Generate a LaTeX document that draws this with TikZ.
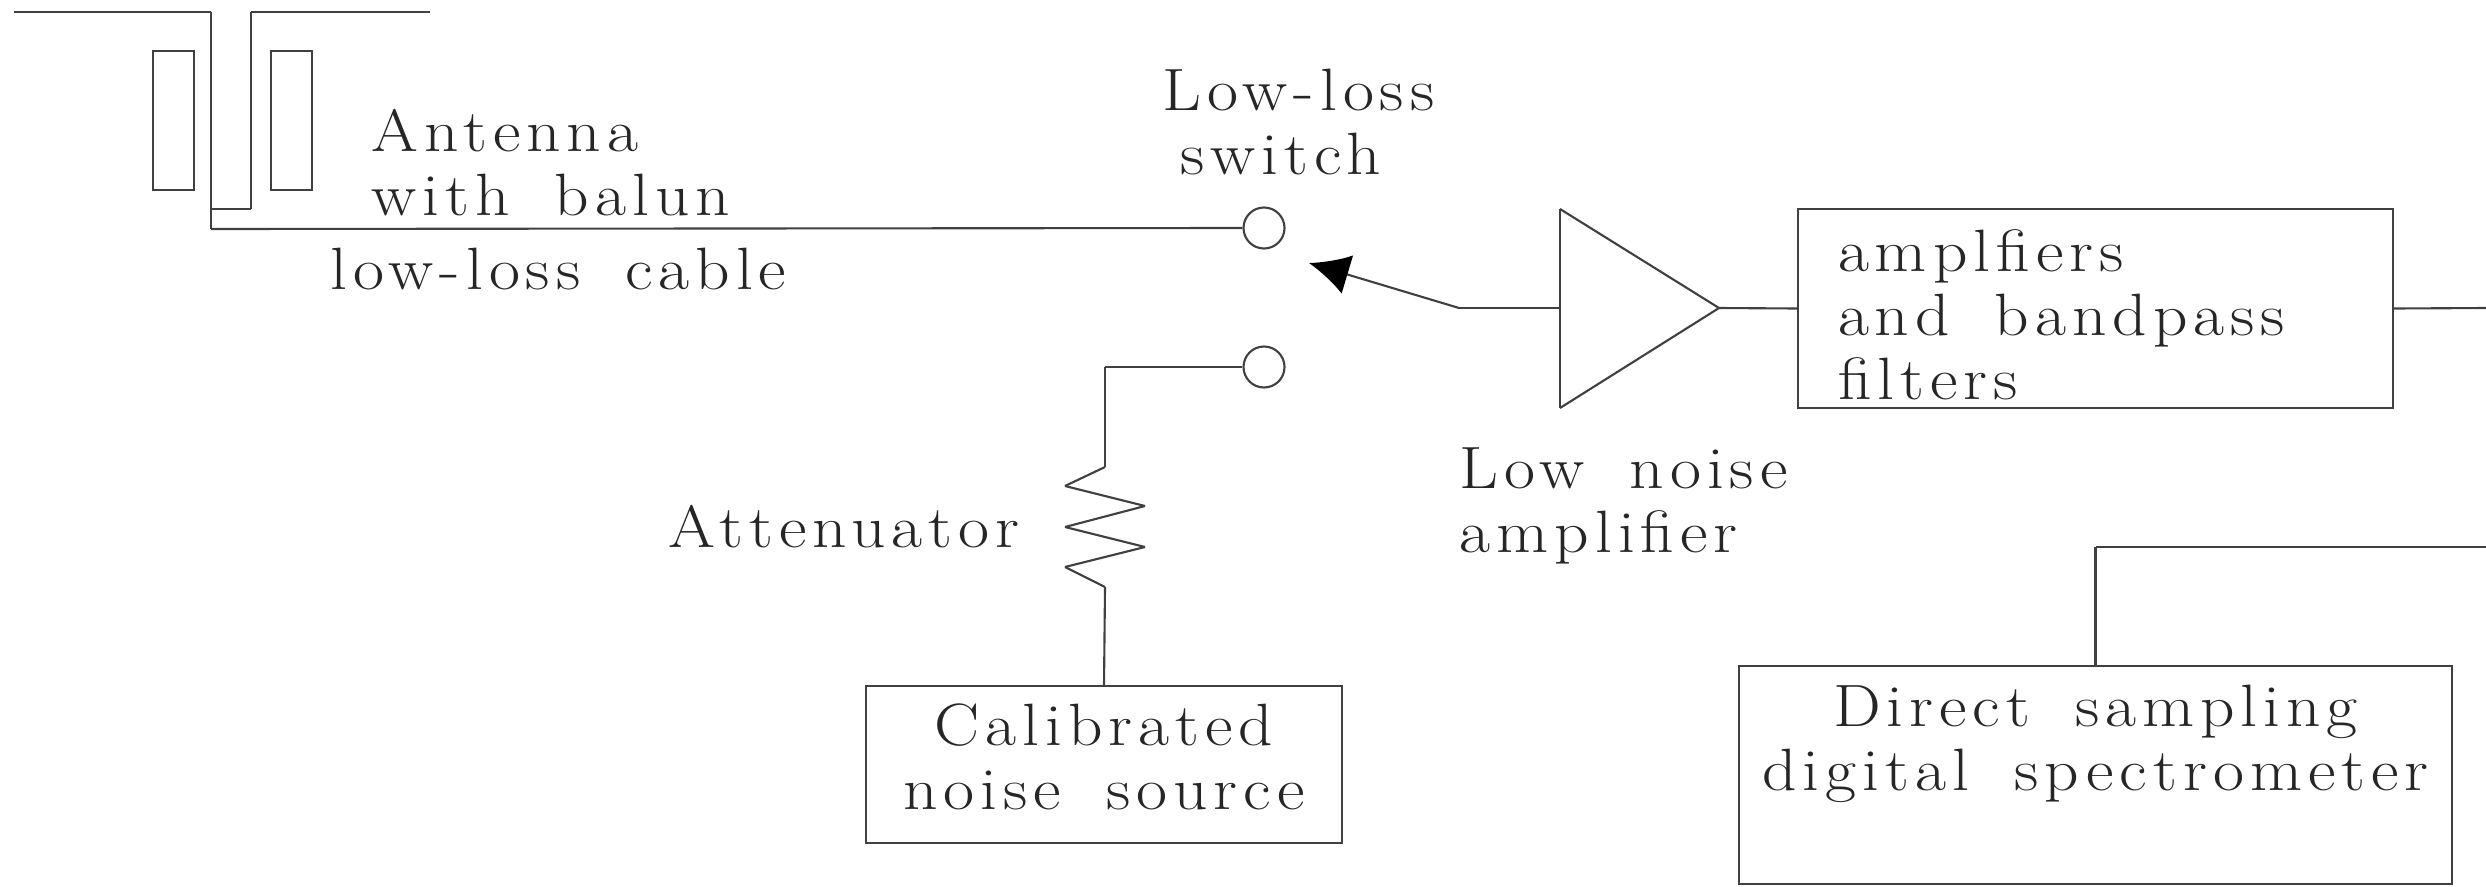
\documentclass[tikz,border=0pt]{standalone}
\usepackage{fontspec}
\usetikzlibrary{arrows.meta}
\newfontfamily\lblfont{Latin Modern Roman}[LetterSpace=10, FakeStretch=1.13, WordSpace=1.7]
\tikzset{
    wire/.style={draw=black!75, line width=0.6pt},
    lbl/.style={inner sep=0pt, anchor=base west, align=left, text=black!85, font=\fontsize{17}{18.2}\lblfont},
    box/.style={wire, draw, inner sep=0pt, anchor=base, text=black!85, font=\fontsize{17}{18.2}\lblfont},
    term/.style={wire, circle, minimum size=0.41cm, inner sep=0pt},
    sleeve/.style={wire, minimum width=0.41cm, minimum height=1.39cm, inner sep=0pt}
}
\begin{document}
\begin{tikzpicture}
            \useasboundingbox (0,0) rectangle (24.86,-8.86);

            \coordinate (dipL) at (0.14,-0.117);
            \coordinate (dipLi) at (2.11,-0.117);
            \coordinate (dipRi) at (2.51,-0.117);
            \coordinate (dipR) at (4.30,-0.117);
            \coordinate (balunL) at (2.11,-2.09);
            \coordinate (balunR) at (2.51,-2.09);
            \coordinate (cableL) at (2.11,-2.29);
            \node[sleeve] (sleeveL) at (1.735,-1.205) {};
            \node[sleeve] (sleeveR) at (2.915,-1.205) {};

            \node[lbl] (antenna) at (3.71,-2.15) {Antenna\\with balun};
            \node[lbl] (cable) at (3.30,-2.89) {low-loss cable};
            \node[lbl] (switch) at (11.62,-1.74) {Low-loss\\\hspace*{0.18cm}switch};
            \node[lbl] (atten) at (6.68,-5.47) {Attenuator};
            \node[lbl] (lnalbl) at (14.59,-5.52) {Low noise\\amplifier};

            \node[term] (sw1) at (12.64,-2.28) {};
            \node[term] (sw2) at (12.64,-3.67) {};
            \coordinate (swtip) at (13.09,-2.63);
            \coordinate (swarm) at (14.59,-3.08);

            \coordinate (lnaT) at (15.60,-2.09);
            \coordinate (lnaB) at (15.60,-4.08);
            \coordinate (lnaIn) at (15.60,-3.08);
            \coordinate (lnaOut) at (17.19,-3.08);

            \node[box, minimum width=5.95cm, align=left, text height=1.90cm, text depth=0.09cm] (amps) at (20.955,-3.99) {amplfiers\\and bandpass\rule{0.68cm}{0pt}\\filters};
            \node[box, minimum width=4.765cm, align=center, text height=1.23cm, text depth=0.34cm] (noise) at (11.04,-8.09) {Calibrated\\noise source};
            \node[box, minimum width=7.13cm, align=center, text height=1.24cm, text depth=0.94cm] (spec) at (20.955,-7.90) {Direct sampling\\digital spectrometer};

            \coordinate (ampsOut) at (24.86,-3.08);
            \coordinate (specIn) at (24.86,-5.47);
            \coordinate (specUp) at (20.955,-5.47);

            \coordinate (att0) at (11.05,-3.67);
            \coordinate (att1) at (11.05,-4.67);
            \coordinate (att2) at (10.65,-4.86);
            \coordinate (att3) at (11.45,-5.06);
            \coordinate (att4) at (10.65,-5.27);
            \coordinate (att5) at (11.45,-5.47);
            \coordinate (att6) at (10.65,-5.67);
            \coordinate (att7) at (11.05,-5.87);

            \draw[wire] (dipL) to (dipLi); \draw[wire] (dipLi) to (cableL); \draw[wire] (dipRi) to (dipR);
            \draw[wire] (dipRi) to (balunR); \draw[wire] (balunL) to (balunR);
            \draw[wire] (cableL) to (sw1.west);
            \draw[wire] (sw2.west) to (att0); \draw[wire] (att0) to (att1); \draw[wire] (att1) to (att2);
            \draw[wire] (att2) to (att3); \draw[wire] (att3) to (att4); \draw[wire] (att4) to (att5);
            \draw[wire] (att5) to (att6); \draw[wire] (att6) to (att7); \draw[wire] (att7) to (noise.north);
            \draw[wire] (lnaT) to (lnaB); \draw[wire] (lnaT) to (lnaOut); \draw[wire] (lnaB) to (lnaOut);
            \draw[wire, -{Latex[length=0.40cm, width=0.40cm, black]}] (swarm) to (swtip);
            \draw[wire] (lnaIn) to (swarm);
            \draw[wire] (lnaOut) to (amps.west); \draw[wire] (amps.east) to (ampsOut);
            \draw[wire] (specIn) to (specUp); \draw[wire] (specUp) to (spec.north);
\end{tikzpicture}
\end{document}
